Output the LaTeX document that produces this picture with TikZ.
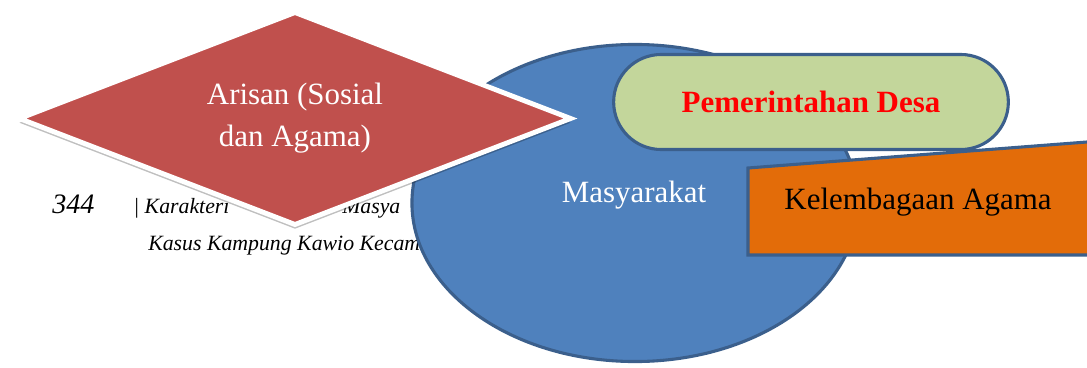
\documentclass[tikz,border=0pt]{standalone}
\usepackage{fontspec}
\setmainfont{Liberation Serif}
\usetikzlibrary{shapes.geometric,shapes.misc,shadows}
\definecolor{arisanred}{HTML}{C0504D}
\definecolor{masyblue}{HTML}{4F81BD}
\definecolor{edgeblue}{HTML}{3B5F8C}
\definecolor{desagreen}{HTML}{C3D69B}
\definecolor{agamaorange}{HTML}{E36C09}
\begin{document}
\begin{tikzpicture}[x=0.025cm, y=-0.025cm,
  bigtext/.style={font=\fontsize{22}{30}\selectfont},
  pagetext/.style={font=\fontsize{15.5}{18}\selectfont\itshape, inner sep=0pt, anchor=base west}]
  \useasboundingbox (0,0) rectangle (1087,368);
  % page text behind the shapes
  \node[pagetext, font=\fontsize{20}{22}\selectfont\itshape] (pagenum) at (52,213) {344};
  \node[pagetext] (head1) at (133,213) {| Karakteri};
  \node[pagetext] (head2) at (342,213) {Masya};
  \node[pagetext] (head3) at (148,250) {Kasus Kampung Kawio Kecam};
  % shapes
  \node[ellipse, draw=edgeblue, line width=2.2pt, fill=masyblue, minimum width=11.15cm, minimum height=7.925cm] (masy) at (635,203) {};
  \node[bigtext, text=white] (masytext) at (634,195) {Masyarakat};
  \node[diamond, aspect=2.58, fill=arisanred, draw=white, line width=3.5pt, minimum width=13.825cm, minimum height=5.35cm, inner sep=0pt,
    drop shadow={shadow xshift=0pt, shadow yshift=-3pt, opacity=.25, fill=black},
    bigtext, text=white, align=center] (arisan) at (295,118.5) {Arisan (Sosial\\dan Agama)};
  \node[rounded rectangle, draw=edgeblue, line width=2.2pt, fill=desagreen, minimum width=10.1cm, minimum height=2.375cm,
    bigtext, text=red, font=\fontsize{22}{30}\selectfont\bfseries] (desa) at (811,102) {Pemerintahan Desa};
  \coordinate (k1) at (748,168);
  \coordinate (k2) at (1100,141);
  \coordinate (k3) at (1100,255);
  \coordinate (k4) at (748,255);
  \draw[draw=edgeblue, line width=2.2pt, fill=agamaorange] (k1) -- (k2) -- (k3) -- (k4) -- cycle;
  \node[bigtext] (agama) at (918,202) {Kelembagaan Agama};
\end{tikzpicture}
\end{document}
